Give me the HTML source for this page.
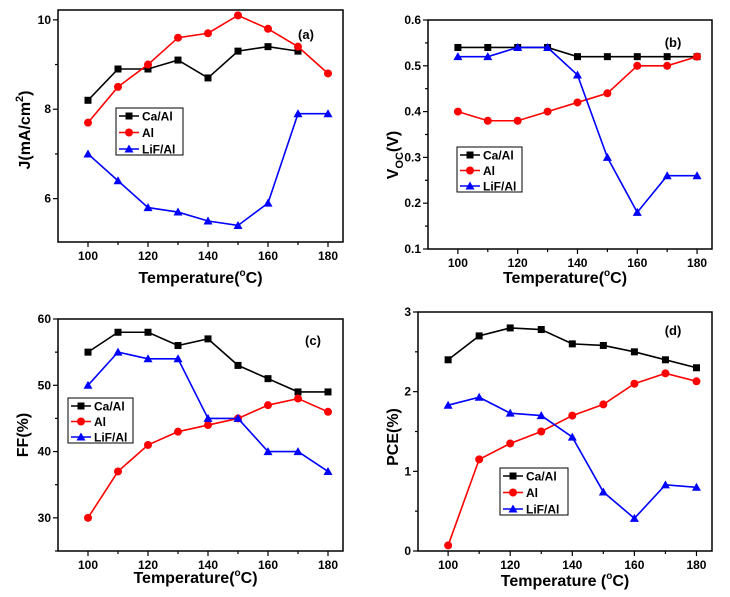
<!DOCTYPE html>
<html><head><meta charset="utf-8"><style>
html,body{margin:0;padding:0;background:#fff;}
svg{display:block;font-family:"Liberation Sans",Arial,sans-serif;}
</style></head><body>
<svg id="fig" width="730" height="597" viewBox="0 0 730 597" xmlns="http://www.w3.org/2000/svg"></svg>
<script>
const temps = [100,110,120,130,140,150,160,170,180];
const jCa = [8.2,8.9,8.9,9.1,8.7,9.3,9.4,9.3];
const jAl = [7.7,8.5,9.0,9.6,9.7,10.1,9.8,9.4,8.8];
const jLiF = [7.0,6.4,5.8,5.7,5.5,5.4,5.9,7.9,7.9];
const vCa = [0.54,0.54,0.54,0.54,0.52,0.52,0.52,0.52,0.52];
const vAl = [0.40,0.38,0.38,0.40,0.42,0.44,0.50,0.50,0.52];
const vLiF = [0.52,0.52,0.54,0.54,0.48,0.30,0.18,0.26,0.26];
const ffCa = [55,58,58,56,57,53,51,49,49];
const ffAl = [30,37,41,43,44,45,47,48,46];
const ffLiF = [50,55,54,54,45,45,40,40,37];
const pCa = [2.4,2.7,2.8,2.78,2.6,2.58,2.5,2.4,2.3];
const pAl = [0.07,1.15,1.35,1.5,1.7,1.84,2.1,2.23,2.13];
const pLiF = [1.83,1.93,1.73,1.7,1.43,0.74,0.41,0.83,0.8];
const xTicks = [100,120,140,160,180];
const jTicks = [6,8,10];
const vTicks = [0.1,0.2,0.3,0.4,0.5,0.6];
const ffTicks = [30,40,50,60];
const pTicks = [0,1,2,3];
const seriesNames = ["Ca/Al","Al","LiF/Al"];

const NS="http://www.w3.org/2000/svg";
const svg=document.getElementById('fig');
function mk(tag,attrs,parent,text){const e=document.createElementNS(NS,tag);for(const k in attrs)e.setAttribute(k,attrs[k]);if(text!==undefined)e.textContent=text;(parent||svg).appendChild(e);return e;}
const colors=["#000","#f00","#00f"];
function marker(g,shape,x,y,c){
  let m;
  if(shape===0){m=mk('rect',{x:x-3.5,y:y-3.5,width:7,height:7,fill:c},g);}
  else if(shape===1){m=mk('circle',{cx:x,cy:y,r:4,fill:c},g);}
  else {m=mk('polygon',{points:`${x},${y-4.5} ${x+4.5},${y+3.5} ${x-4.5},${y+3.5}`,fill:c},g);}
  return m;
}
function panel(p){
  const g=mk('g',{});
  
  
  const sx=v=>p.L+(v-p.xmin)/(p.xmax-p.xmin)*(p.R-p.L);
  const sy=v=>p.B-(v-p.ymin)/(p.ymax-p.ymin)*(p.B-p.T);
  const fr=mk('rect',{x:p.L,y:p.T,width:p.R-p.L,height:p.B-p.T,fill:'none',stroke:'#000','stroke-width':1.5},g);
  
  for(let v=100;v<=180;v+=10){const major=v%20===0;mk('line',{x1:sx(v),x2:sx(v),y1:p.B,y2:p.B+(major?5:3),stroke:'#000','stroke-width':1.2},g);}
  xTicks.forEach(v=>{const t=mk('text',{x:sx(v),y:p.B+18,'text-anchor':'middle','font-size':12,'font-weight':'bold'},g,String(v));});
  const st=p.yticks[1]-p.yticks[0];
  for(let i=0;i<p.yticks.length;i++){
    const v=p.yticks[i];
    mk('line',{x1:p.L-5,x2:p.L,y1:sy(v),y2:sy(v),stroke:'#000','stroke-width':1.2},g);
    const t=mk('text',{x:p.L-7,y:sy(v)+4,'text-anchor':'end','font-size':12,'font-weight':'bold'},g,p.fmt(v));
    
  }
  for(let v=p.yticks[0]-st/2;v<=p.ymax;v+=st){if(v>=p.ymin&&v<=p.ymax) mk('line',{x1:p.L-3,x2:p.L,y1:sy(v),y2:sy(v),stroke:'#000','stroke-width':1.2},g);}
  p.series.forEach((s,k)=>{
    const sg=mk('g',{},g);
    
    
    const pts=s.map((v,i)=>sx(temps[i])+','+sy(v)).join(' ');
    mk('polyline',{points:pts,fill:'none',stroke:colors[k],'stroke-width':1.6},sg);
    s.forEach((v,i)=>{const m=marker(sg,k,sx(temps[i]),sy(v),colors[k]);});
  });
  const lg=mk('g',{},g);
  
  const [lx,ly,lw,lh]=p.leg;
  mk('rect',{x:lx,y:ly,width:lw,height:lh,fill:'#fff',stroke:'#000','stroke-width':1},lg);
  seriesNames.forEach((n,k)=>{
    const yy=ly+8+k*(lh-14)/2;
    const e=mk('g',{},lg);
    
    mk('line',{x1:lx+3,x2:lx+23,y1:yy,y2:yy,stroke:colors[k],'stroke-width':1.6},e);
    marker(e,k,lx+13,yy,colors[k]);
    mk('text',{x:lx+26,y:yy+4.5,'font-size':12,'font-weight':'bold'},e,n);
  });
  const pl=mk('text',{x:p.lab[0],y:p.lab[1],'text-anchor':'middle','font-size':13,'font-weight':'bold'},g,p.letter);
  
  const xt=mk('text',{x:(p.L+p.R)/2+p.xtOff,y:p.B+p.xtY,'text-anchor':'middle','font-size':16,'font-weight':'bold'},g);
  
  xt.innerHTML=p.xtitle;
  const yt=mk('text',{transform:`translate(${p.yt[0]},${p.yt[1]}) rotate(-90)`,'text-anchor':'middle','font-size':16,'font-weight':'bold'},g);
  
  yt.innerHTML=p.ytitle;
}
const degT='Temperature(<tspan font-size="10" dy="-7">o</tspan><tspan dy="7">C)</tspan>';
panel({name:'panel-a-current-density',L:58,R:343,T:10,B:242,xmin:90,xmax:185,ymin:5.03,ymax:10.22,yticks:jTicks,fmt:v=>String(v),
  series:[jCa,jAl,jLiF],leg:[116,108,67,47],lab:[306,39],letter:'(a)',xtitle:degT,xtOff:0,xtY:41,
  ytitle:'J(mA/cm<tspan font-size="11" dy="-7">2</tspan><tspan dy="7">)</tspan>',yt:[30,130]});
panel({name:'panel-b-voc',L:428,R:712,T:20,B:249,xmin:90,xmax:185,ymin:0.1,ymax:0.6,yticks:vTicks,fmt:v=>v.toFixed(1),
  series:[vCa,vAl,vLiF],leg:[457,147,65,45],lab:[673,47],letter:'(b)',xtitle:degT,xtOff:-5,xtY:34,
  ytitle:'V<tspan font-size="11" dy="5">OC</tspan><tspan dy="-5">(V)</tspan>',yt:[398,155]});
panel({name:'panel-c-fill-factor',L:58,R:343,T:319,B:551,xmin:90,xmax:185,ymin:25,ymax:60,yticks:ffTicks,fmt:v=>String(v),
  series:[ffCa,ffAl,ffLiF],leg:[68,398,65,45],lab:[313,345],letter:'(c)',xtitle:degT,xtOff:-5,xtY:32,
  ytitle:'FF(%)',yt:[28,435]});
panel({name:'panel-d-pce',L:418,R:712,T:312,B:551,xmin:90.3,xmax:185,ymin:0,ymax:3,yticks:pTicks,fmt:v=>String(v),
  series:[pCa,pAl,pLiF],leg:[500,468,68,47],lab:[673,335],letter:'(d)',xtitle:'Temperature (<tspan font-size="10" dy="-7">o</tspan><tspan dy="7">C)</tspan>',xtOff:0,xtY:35,
  ytitle:'PCE(%)',yt:[398,437]});
</script>
</body></html>
